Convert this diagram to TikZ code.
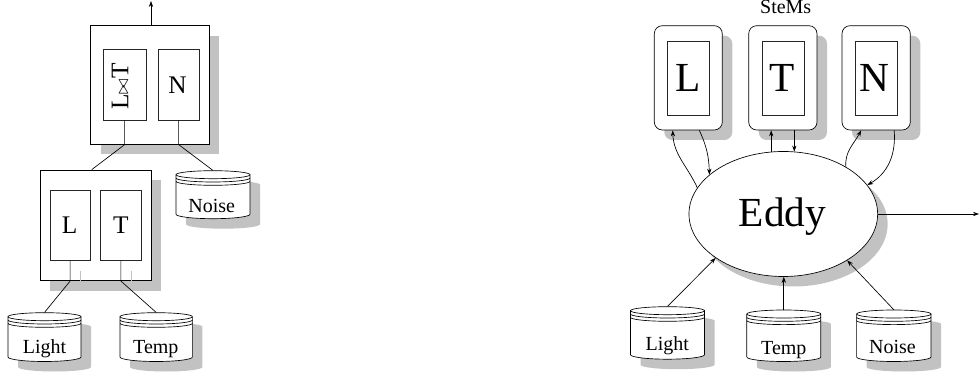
\documentclass[tikz,border=0pt]{standalone}
\usepackage{fontspec}
\setmainfont{Liberation Serif}
\usetikzlibrary{arrows.meta,shapes.geometric,shadows,fit,calc}
\definecolor{shd}{gray}{0.76}
\tikzset{
  ln/.style={line width=0.5pt},
  arr/.style={ln,-{Stealth[length=4.5pt,width=3.2pt]}},
  shad/.style={drop shadow={shadow xshift=7.5pt,shadow yshift=-7.5pt,fill=shd,opacity=1}},
  obox/.style={draw,fill=white,ln,inner sep=0pt,shad},
  ibox/.style={draw=black!85,fill=white,ln,inner sep=0pt},
  stembox/.style={obox,rounded corners=6pt},
  lblS/.style={font=\fontsize{15}{15}\selectfont,anchor=base,inner sep=0pt},
  lblM/.style={font=\fontsize{19}{19}\selectfont,anchor=base,inner sep=0pt},
  lblL/.style={font=\fontsize{31}{31}\selectfont,anchor=base,inner sep=0pt},
}
\newcommand\dbcyl[5]{% name, cx, top-centre y (px, down), rx, height
  \begin{scope}[shift={(#2,-#3)}]
    \fill[shd] (-#4+10,-10) -- (-#4+10,-#5-10)
      arc[start angle=180,end angle=360,x radius=#4,y radius=4.5]
      -- (#4+10,-10) arc[start angle=0,end angle=180,x radius=#4,y radius=4] -- cycle;
    \filldraw[fill=white,ln] (-#4,0) -- (-#4,-#5)
      arc[start angle=180,end angle=360,x radius=#4,y radius=4.5]
      -- (#4,0) arc[start angle=0,end angle=180,x radius=#4,y radius=4] -- cycle;
    \foreach \dd in {0,3.3,6.6}
      \draw[ln] (-#4,-\dd) arc[start angle=180,end angle=360,x radius=#4,y radius=4];
    \node[fit={(-#4,4)(#4,-#5-4.5)},inner sep=0pt] (#1) {};
  \end{scope}}
\begin{document}
\begin{tikzpicture}[x=0.75pt,y=0.75pt]
\useasboundingbox (0,0) rectangle (980,-377);

% ---------------- left: join tree ----------------
\node[obox,fit={(90.7,-25.7)(209,-144.3)}] (jtop) {};
\node[ibox,fit={(103.3,-49.7)(146,-120)}] (ilt) {};
\node[ibox,fit={(158.3,-49.7)(199,-120)}] (in) {};
\node[lblM,rotate=90] (iltlbl) at (128.3,-86.7) {L$\scriptstyle\bowtie$T};
\node[lblM] (inlbl) at (177.5,-93.3) {N};

\node[obox,fit={(40,-170)(151,-280.7)}] (jlow) {};
\node[ibox,fit={(50,-190.7)(90.3,-260.7)}] (il) {};
\node[ibox,fit={(100.7,-190.7)(141,-260.7)}] (it) {};
\node[lblM] (illbl) at (69.5,-234) {L};
\node[lblM] (itlbl) at (120.8,-234) {T};

\dbcyl{noiseL}{213}{174.7}{37}{39.5}
\node[lblS] (noiseLlbl) at (211.7,-212.7) {Noise};
\dbcyl{lightL}{44.5}{316.7}{36.5}{40.3}
\node[lblS] (lightLlbl) at (44.5,-353.3) {Light};
\dbcyl{tempL}{156.2}{316.7}{36.2}{40.3}
\node[lblS] (tempLlbl) at (155.8,-353.3) {Temp};

\coordinate (topout) at (151,-1);
\draw[arr] (jtop.north -| topout) -- (topout);
\draw[ln] (ilt.south) -- (ilt.south |- jtop.south) -- ($(jlow.north)+(-3.8,0)$);
\draw[ln] (in.south) -- (in.south |- jtop.south) -- (noiseL.north);
\draw[shd,ln] ($(il.south)+(10,-10)$) -- ($(il.south |- jlow.south)+(10,0)$);
\draw[shd,ln] ($(it.south)+(10,-10)$) -- ($(it.south |- jlow.south)+(10,0)$);
\draw[ln] (il.south) -- (il.south |- jlow.south) -- (lightL.north);
\draw[ln] (it.south) -- (it.south |- jlow.south) -- (tempL.north);

% ---------------- right: eddy with SteMs ----------------
\node[lblS] (stems) at (785.7,-14) {SteMs};
\node[stembox,fit={(654.3,-25.7)(722.3,-130)}] (stemL) {};
\node[stembox,fit={(748.7,-25.7)(817,-130)}] (stemT) {};
\node[stembox,fit={(842,-25.7)(910.3,-130)}] (stemN) {};
\node[ibox,fit={(667.3,-41)(709.7,-115)}] (stemLi) {};
\node[ibox,fit={(762,-41)(804,-115)}] (stemTi) {};
\node[ibox,fit={(855.3,-41)(897.3,-115)}] (stemNi) {};
\node[lblL] (stemLlbl) at (688,-91.7) {L};
\node[lblL] (stemTlbl) at (781.7,-91.7) {T};
\node[lblL] (stemNlbl) at (874.2,-91.7) {N};

\node[ellipse,draw,fill=white,ln,inner sep=0pt,minimum width=141.5pt,minimum height=93.75pt,shad] (eddy) at (783.3,-214) {};
\node[lblL] (eddylbl) at (782.5,-226.7) {Eddy};

\dbcyl{lightR}{667.5}{310.7}{37}{44}
\node[lblS] (lightRlbl) at (667.2,-350) {Light};
\dbcyl{tempR}{783.8}{314}{37}{43}
\node[lblS] (tempRlbl) at (783.8,-354.3) {Temp};
\dbcyl{noiseR}{893.8}{314}{37.2}{43}
\node[lblS] (noiseRlbl) at (892.5,-353.3) {Noise};

\coordinate (eout) at (979,-214);
\draw[arr] (eddy.east) -- (eout);

\draw[arr] (eddy.163.1) to[out=115,in=-88] ($(stemL.south)+(-15.6,0)$);
\draw[arr] ($(stemL.south)+(11,0)$) to[out=-65,in=92] (eddy.152.2);
\draw[arr] (eddy.101.8) -- (eddy.101.8 |- stemT.south);
\draw[arr] (eddy.80.2 |- stemT.south) -- (eddy.80.2);
\draw[arr] (eddy.37.7) to[out=95,in=-118] ($(stemN.south)+(-15,0)$);
\draw[arr] ($(stemN.south)+(18,0)$) to[out=-85,in=30] (eddy.19.3);

\draw[arr] (lightR.north) -- (eddy.213.6);
\draw[arr] (tempR.north) -- (tempR.north |- eddy.south);
\draw[arr] (noiseR.north) -- (eddy.-36.8);
\end{tikzpicture}
\end{document}
